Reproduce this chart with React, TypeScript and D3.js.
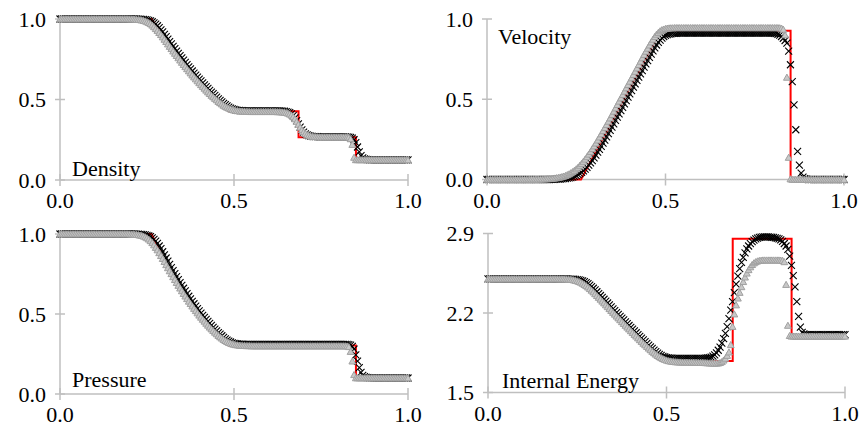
import React from "react";
import * as d3 from "d3";

// cell centres of the two runs (200 cells on [0, 1])
const xGrid: number[] = d3.range(201).map((i) => i / 200);

const xTicks = [0, 0.5, 1];
const xTickLabels = ["0.0", "0.5", "1.0"];
const unitTicks = [0, 0.5, 1];
const unitTickLabels = ["0.0", "0.5", "1.0"];
const energyTicks = [1.5, 2.2, 2.9];
const energyTickLabels = ["1.5", "2.2", "2.9"];

// exact (Riemann) solution, red line
const exactX = [0, 0.2634, 0.28, 0.3, 0.32, 0.34, 0.36, 0.38, 0.4, 0.42, 0.44, 0.46, 0.48, 0.4859, 0.6855, 0.6855, 0.8504, 0.8504, 1.0];
const densityExact = [1, 1, 0.9427, 0.8774, 0.816, 0.7582, 0.7029, 0.6514, 0.6029, 0.5574, 0.5147, 0.4745, 0.437, 0.4263, 0.4263, 0.2656, 0.2656, 0.125, 0.125];
const velocityExact = [0, 0, 0.0694, 0.1527, 0.236, 0.3194, 0.4027, 0.486, 0.5694, 0.6527, 0.736, 0.8194, 0.9027, 0.9275, 0.9275, 0.9275, 0.9275, 0, 0];
const pressureExact = [1, 1, 0.9207, 0.8327, 0.7522, 0.6785, 0.6105, 0.5488, 0.4924, 0.4412, 0.3946, 0.3522, 0.3138, 0.3031, 0.3031, 0.3031, 0.3031, 0.1, 0.1];
const energyExact = [2.5, 2.5, 2.4417, 2.3726, 2.3045, 2.2373, 2.1712, 2.1061, 2.0419, 1.9788, 1.9167, 1.8555, 1.7953, 1.7776, 1.7776, 2.8531, 2.8531, 2.0, 2.0];

// run 1 (black crosses)
const densityBlack = [
  1, 1, 1, 1, 1, 1, 1, 1, 1, 1,
  1, 1, 1, 1, 1, 1, 1, 1, 1, 1,
  1, 1, 1, 1, 1, 1, 1, 1, 1, 1,
  1, 1, 1, 1, 1, 1, 1, 1, 1, 1,
  1, 1, 1, 1, 1, 0.999, 0.999, 0.998, 0.997, 0.996,
  0.994, 0.992, 0.988, 0.983, 0.976, 0.968, 0.958, 0.946, 0.933, 0.92,
  0.905, 0.891, 0.875, 0.86, 0.845, 0.83, 0.816, 0.801, 0.787, 0.772,
  0.758, 0.744, 0.73, 0.716, 0.703, 0.69, 0.677, 0.664, 0.651, 0.639,
  0.627, 0.615, 0.603, 0.591, 0.58, 0.569, 0.557, 0.546, 0.536, 0.525,
  0.515, 0.504, 0.495, 0.485, 0.476, 0.468, 0.46, 0.453, 0.447, 0.442,
  0.438, 0.435, 0.433, 0.432, 0.431, 0.431, 0.43, 0.43, 0.43, 0.43,
  0.43, 0.43, 0.43, 0.43, 0.43, 0.43, 0.43, 0.43, 0.43, 0.43,
  0.43, 0.43, 0.43, 0.43, 0.43, 0.43, 0.429, 0.429, 0.428, 0.427,
  0.425, 0.422, 0.418, 0.411, 0.4, 0.386, 0.369, 0.349, 0.329, 0.312,
  0.298, 0.287, 0.28, 0.276, 0.273, 0.271, 0.27, 0.269, 0.269, 0.268,
  0.268, 0.268, 0.268, 0.268, 0.268, 0.268, 0.268, 0.268, 0.268, 0.268,
  0.268, 0.268, 0.268, 0.268, 0.268, 0.267, 0.266, 0.264, 0.26, 0.25,
  0.232, 0.205, 0.175, 0.152, 0.138, 0.131, 0.128, 0.126, 0.125, 0.125,
  0.125, 0.125, 0.125, 0.125, 0.125, 0.125, 0.125, 0.125, 0.125, 0.125,
  0.125, 0.125, 0.125, 0.125, 0.125, 0.125, 0.125, 0.125, 0.125, 0.125,
  0.125,
];

const velocityBlack = [
  0, 0, 0, 0, 0, 0, 0, 0, 0, 0,
  0, 0, 0, 0, 0, 0, 0, 0, 0, 0,
  0, 0, 0, 0, 0, 0, 0, 0, 0, 0,
  0, 0, 0, 0, 0, 0, 0.001, 0.001, 0.001, 0.002,
  0.002, 0.003, 0.004, 0.005, 0.006, 0.008, 0.01, 0.012, 0.015, 0.019,
  0.024, 0.03, 0.036, 0.044, 0.054, 0.064, 0.076, 0.089, 0.103, 0.118,
  0.135, 0.152, 0.17, 0.188, 0.207, 0.227, 0.246, 0.266, 0.286, 0.306,
  0.327, 0.347, 0.368, 0.388, 0.409, 0.429, 0.45, 0.471, 0.492, 0.513,
  0.533, 0.554, 0.575, 0.596, 0.617, 0.638, 0.658, 0.679, 0.7, 0.721,
  0.741, 0.761, 0.781, 0.801, 0.82, 0.838, 0.854, 0.869, 0.881, 0.891,
  0.898, 0.903, 0.906, 0.908, 0.91, 0.911, 0.911, 0.912, 0.912, 0.912,
  0.912, 0.912, 0.912, 0.912, 0.912, 0.912, 0.912, 0.912, 0.912, 0.912,
  0.912, 0.912, 0.912, 0.912, 0.912, 0.912, 0.912, 0.912, 0.912, 0.912,
  0.912, 0.912, 0.912, 0.912, 0.912, 0.912, 0.912, 0.912, 0.912, 0.912,
  0.912, 0.912, 0.912, 0.912, 0.912, 0.912, 0.912, 0.912, 0.912, 0.912,
  0.912, 0.912, 0.912, 0.912, 0.912, 0.912, 0.912, 0.912, 0.912, 0.912,
  0.912, 0.911, 0.909, 0.905, 0.899, 0.891, 0.88, 0.866, 0.85, 0.8,
  0.715, 0.61, 0.465, 0.31, 0.175, 0.09, 0.04, 0.015, 0.005, 0.002,
  0, 0, 0, 0, 0, 0, 0, 0, 0, 0,
  0, 0, 0, 0, 0, 0, 0, 0, 0, 0,
  0,
];

const pressureBlack = [
  1, 1, 1, 1, 1, 1, 1, 1, 1, 1,
  1, 1, 1, 1, 1, 1, 1, 1, 1, 1,
  1, 1, 1, 1, 1, 1, 1, 1, 1, 1,
  1, 1, 1, 1, 1, 1, 1, 1, 1, 1,
  1, 1, 1, 1, 0.999, 0.999, 0.998, 0.998, 0.996, 0.995,
  0.992, 0.988, 0.984, 0.976, 0.967, 0.955, 0.941, 0.925, 0.908, 0.889,
  0.87, 0.85, 0.83, 0.81, 0.79, 0.771, 0.752, 0.733, 0.715, 0.696,
  0.679, 0.661, 0.644, 0.627, 0.611, 0.595, 0.579, 0.564, 0.549, 0.534,
  0.52, 0.506, 0.492, 0.479, 0.466, 0.454, 0.441, 0.429, 0.417, 0.406,
  0.395, 0.384, 0.374, 0.364, 0.354, 0.345, 0.337, 0.33, 0.325, 0.32,
  0.317, 0.314, 0.313, 0.312, 0.311, 0.311, 0.31, 0.31, 0.31, 0.31,
  0.31, 0.31, 0.31, 0.31, 0.31, 0.31, 0.31, 0.31, 0.31, 0.31,
  0.31, 0.31, 0.31, 0.31, 0.31, 0.31, 0.31, 0.31, 0.31, 0.31,
  0.31, 0.31, 0.31, 0.31, 0.31, 0.31, 0.31, 0.31, 0.31, 0.31,
  0.31, 0.31, 0.31, 0.31, 0.31, 0.31, 0.31, 0.31, 0.31, 0.31,
  0.31, 0.31, 0.31, 0.31, 0.31, 0.31, 0.31, 0.31, 0.31, 0.31,
  0.31, 0.31, 0.31, 0.31, 0.31, 0.31, 0.308, 0.305, 0.298, 0.28,
  0.245, 0.205, 0.165, 0.135, 0.117, 0.108, 0.104, 0.102, 0.101, 0.101,
  0.1, 0.1, 0.1, 0.1, 0.1, 0.1, 0.1, 0.1, 0.1, 0.1,
  0.1, 0.1, 0.1, 0.1, 0.1, 0.1, 0.1, 0.1, 0.1, 0.1,
  0.1,
];

const energyBlack = [
  2.5, 2.5, 2.5, 2.5, 2.5, 2.5, 2.5, 2.5, 2.5, 2.5,
  2.5, 2.5, 2.5, 2.5, 2.5, 2.5, 2.5, 2.5, 2.5, 2.5,
  2.5, 2.5, 2.5, 2.5, 2.5, 2.5, 2.5, 2.5, 2.5, 2.5,
  2.5, 2.5, 2.5, 2.5, 2.5, 2.5, 2.5, 2.5, 2.5, 2.5,
  2.5, 2.5, 2.5, 2.5, 2.5, 2.499, 2.499, 2.498, 2.498, 2.496,
  2.494, 2.492, 2.488, 2.483, 2.476, 2.468, 2.458, 2.446, 2.432, 2.418,
  2.403, 2.387, 2.371, 2.354, 2.338, 2.321, 2.305, 2.288, 2.271, 2.254,
  2.237, 2.221, 2.204, 2.188, 2.171, 2.155, 2.139, 2.122, 2.106, 2.09,
  2.074, 2.058, 2.042, 2.026, 2.01, 1.995, 1.979, 1.963, 1.948, 1.932,
  1.917, 1.901, 1.888, 1.874, 1.86, 1.847, 1.836, 1.827, 1.819, 1.813,
  1.808, 1.805, 1.803, 1.802, 1.801, 1.801, 1.8, 1.8, 1.8, 1.8,
  1.8, 1.8, 1.8, 1.8, 1.8, 1.8, 1.8, 1.8, 1.8, 1.8,
  1.8, 1.801, 1.802, 1.804, 1.807, 1.812, 1.82, 1.832, 1.849, 1.872,
  1.9, 1.935, 1.975, 2.02, 2.08, 2.15, 2.225, 2.3, 2.38, 2.455,
  2.525, 2.59, 2.645, 2.69, 2.73, 2.765, 2.79, 2.81, 2.828, 2.842,
  2.852, 2.86, 2.865, 2.868, 2.87, 2.871, 2.871, 2.87, 2.869, 2.867,
  2.865, 2.862, 2.858, 2.852, 2.843, 2.83, 2.812, 2.79, 2.76, 2.7,
  2.62, 2.53, 2.43, 2.3, 2.17, 2.075, 2.03, 2.015, 2.01, 2.01,
  2.01, 2.01, 2.01, 2.01, 2.01, 2.01, 2.01, 2.01, 2.01, 2.01,
  2.01, 2.01, 2.01, 2.01, 2.01, 2.01, 2.01, 2.01, 2.01, 2.01,
  2.01,
];

// run 2 (grey triangles)
const densityGray = [
  1, 1, 1, 1, 1, 1, 1, 1, 1, 1,
  1, 1, 1, 1, 1, 1, 1, 1, 1, 1,
  1, 1, 1, 1, 1, 1, 1, 1, 1, 1,
  1, 1, 1, 1, 1, 1, 1, 1, 1, 1,
  0.999, 0.999, 0.999, 0.998, 0.997, 0.996, 0.995, 0.993, 0.99, 0.987,
  0.982, 0.977, 0.97, 0.961, 0.951, 0.939, 0.928, 0.915, 0.902, 0.888,
  0.873, 0.859, 0.844, 0.829, 0.815, 0.8, 0.786, 0.772, 0.758, 0.744,
  0.73, 0.716, 0.703, 0.69, 0.677, 0.664, 0.651, 0.639, 0.627, 0.615,
  0.603, 0.591, 0.58, 0.569, 0.557, 0.546, 0.536, 0.525, 0.516, 0.506,
  0.497, 0.487, 0.479, 0.471, 0.463, 0.457, 0.451, 0.446, 0.441, 0.437,
  0.434, 0.431, 0.43, 0.428, 0.427, 0.426, 0.426, 0.425, 0.425, 0.424,
  0.424, 0.424, 0.424, 0.424, 0.424, 0.424, 0.424, 0.424, 0.424, 0.424,
  0.424, 0.424, 0.424, 0.424, 0.424, 0.423, 0.423, 0.422, 0.421, 0.42,
  0.418, 0.414, 0.409, 0.402, 0.392, 0.379, 0.363, 0.345, 0.327, 0.311,
  0.298, 0.288, 0.281, 0.276, 0.272, 0.27, 0.269, 0.268, 0.267, 0.267,
  0.266, 0.266, 0.266, 0.266, 0.266, 0.266, 0.266, 0.266, 0.266, 0.266,
  0.266, 0.266, 0.266, 0.266, 0.266, 0.266, 0.265, 0.255, 0.22, 0.14,
  0.125, 0.125, 0.125, 0.125, 0.125, 0.125, 0.125, 0.125, 0.125, 0.125,
  0.125, 0.125, 0.125, 0.125, 0.125, 0.125, 0.125, 0.125, 0.125, 0.125,
  0.125, 0.125, 0.125, 0.125, 0.125, 0.125, 0.125, 0.125, 0.125, 0.125,
  0.125,
];

const velocityGray = [
  0, 0, 0, 0, 0, 0, 0, 0, 0, 0,
  0, 0, 0, 0, 0, 0, 0, 0, 0, 0,
  0, 0, 0, 0, 0.001, 0.001, 0.001, 0.001, 0.001, 0.001,
  0.002, 0.002, 0.002, 0.003, 0.004, 0.004, 0.005, 0.007, 0.008, 0.01,
  0.012, 0.014, 0.017, 0.02, 0.024, 0.029, 0.034, 0.041, 0.048, 0.056,
  0.065, 0.075, 0.087, 0.099, 0.112, 0.126, 0.141, 0.157, 0.173, 0.191,
  0.208, 0.226, 0.245, 0.264, 0.283, 0.303, 0.322, 0.342, 0.362, 0.382,
  0.403, 0.424, 0.445, 0.466, 0.487, 0.507, 0.528, 0.549, 0.57, 0.59,
  0.611, 0.632, 0.653, 0.673, 0.694, 0.715, 0.736, 0.757, 0.778, 0.798,
  0.817, 0.837, 0.856, 0.873, 0.89, 0.904, 0.915, 0.925, 0.932, 0.936,
  0.94, 0.942, 0.943, 0.944, 0.944, 0.945, 0.945, 0.945, 0.945, 0.945,
  0.945, 0.945, 0.945, 0.945, 0.945, 0.945, 0.945, 0.945, 0.945, 0.945,
  0.945, 0.945, 0.945, 0.945, 0.945, 0.945, 0.945, 0.945, 0.945, 0.945,
  0.945, 0.945, 0.945, 0.945, 0.945, 0.945, 0.945, 0.945, 0.945, 0.945,
  0.945, 0.945, 0.945, 0.945, 0.945, 0.945, 0.945, 0.945, 0.945, 0.945,
  0.945, 0.945, 0.945, 0.945, 0.945, 0.945, 0.945, 0.945, 0.945, 0.945,
  0.945, 0.945, 0.945, 0.945, 0.944, 0.942, 0.935, 0.9, 0.636, 0.137,
  0.003, 0, 0, 0, 0, 0, 0, 0, 0, 0,
  0, 0, 0, 0, 0, 0, 0, 0, 0, 0,
  0, 0, 0, 0, 0, 0, 0, 0, 0, 0,
  0,
];

const pressureGray = [
  1, 1, 1, 1, 1, 1, 1, 1, 1, 1,
  1, 1, 1, 1, 1, 1, 1, 1, 1, 1,
  1, 1, 1, 1, 1, 1, 1, 1, 1, 1,
  1, 1, 1, 1, 1, 1, 1, 1, 1, 1,
  0.999, 0.998, 0.998, 0.997, 0.996, 0.995, 0.992, 0.99, 0.986, 0.981,
  0.975, 0.967, 0.957, 0.945, 0.931, 0.915, 0.9, 0.882, 0.864, 0.846,
  0.827, 0.807, 0.788, 0.769, 0.751, 0.732, 0.714, 0.696, 0.678, 0.661,
  0.644, 0.627, 0.611, 0.595, 0.579, 0.564, 0.549, 0.534, 0.52, 0.506,
  0.492, 0.479, 0.466, 0.454, 0.441, 0.429, 0.417, 0.406, 0.396, 0.385,
  0.375, 0.365, 0.356, 0.348, 0.34, 0.333, 0.327, 0.321, 0.317, 0.313,
  0.31, 0.307, 0.306, 0.304, 0.303, 0.302, 0.302, 0.301, 0.301, 0.301,
  0.3, 0.3, 0.3, 0.3, 0.3, 0.3, 0.3, 0.3, 0.3, 0.3,
  0.3, 0.3, 0.3, 0.3, 0.3, 0.3, 0.3, 0.3, 0.3, 0.3,
  0.3, 0.3, 0.3, 0.3, 0.3, 0.3, 0.3, 0.3, 0.3, 0.3,
  0.3, 0.3, 0.3, 0.3, 0.3, 0.3, 0.3, 0.3, 0.3, 0.3,
  0.3, 0.3, 0.3, 0.3, 0.3, 0.3, 0.3, 0.3, 0.3, 0.3,
  0.3, 0.3, 0.3, 0.3, 0.3, 0.299, 0.295, 0.265, 0.205, 0.12,
  0.1, 0.1, 0.1, 0.1, 0.1, 0.1, 0.1, 0.1, 0.1, 0.1,
  0.1, 0.1, 0.1, 0.1, 0.1, 0.1, 0.1, 0.1, 0.1, 0.1,
  0.1, 0.1, 0.1, 0.1, 0.1, 0.1, 0.1, 0.1, 0.1, 0.1,
  0.1,
];

const energyGray = [
  2.5, 2.5, 2.5, 2.5, 2.5, 2.5, 2.5, 2.5, 2.5, 2.5,
  2.5, 2.5, 2.5, 2.5, 2.5, 2.5, 2.5, 2.5, 2.5, 2.5,
  2.5, 2.5, 2.5, 2.5, 2.5, 2.5, 2.5, 2.5, 2.5, 2.5,
  2.5, 2.5, 2.5, 2.5, 2.5, 2.5, 2.5, 2.5, 2.5, 2.5,
  2.499, 2.499, 2.499, 2.498, 2.497, 2.496, 2.495, 2.493, 2.49, 2.486,
  2.482, 2.476, 2.469, 2.46, 2.45, 2.439, 2.427, 2.413, 2.399, 2.384,
  2.368, 2.352, 2.336, 2.32, 2.303, 2.287, 2.27, 2.254, 2.237, 2.221,
  2.204, 2.188, 2.171, 2.155, 2.139, 2.122, 2.106, 2.09, 2.074, 2.058,
  2.042, 2.026, 2.01, 1.995, 1.979, 1.963, 1.948, 1.932, 1.918, 1.904,
  1.889, 1.875, 1.861, 1.848, 1.836, 1.824, 1.814, 1.805, 1.797, 1.79,
  1.784, 1.779, 1.776, 1.773, 1.771, 1.769, 1.768, 1.767, 1.767, 1.766,
  1.766, 1.766, 1.765, 1.765, 1.765, 1.765, 1.764, 1.764, 1.763, 1.763,
  1.763, 1.762, 1.761, 1.76, 1.759, 1.758, 1.757, 1.757, 1.757, 1.758,
  1.762, 1.77, 1.784, 1.8, 1.825, 1.855, 1.92, 2.08, 2.19, 2.27,
  2.33, 2.38, 2.43, 2.475, 2.515, 2.55, 2.58, 2.605, 2.625, 2.64,
  2.65, 2.657, 2.661, 2.663, 2.665, 2.665, 2.665, 2.665, 2.665, 2.665,
  2.665, 2.665, 2.665, 2.665, 2.664, 2.662, 2.65, 2.45, 2.09, 2.0,
  1.995, 1.995, 1.995, 1.995, 1.995, 1.995, 1.995, 1.995, 1.995, 1.995,
  1.995, 1.995, 1.995, 1.995, 1.995, 1.995, 1.995, 1.995, 1.995, 1.995,
  1.995, 1.995, 1.995, 1.995, 1.995, 1.995, 1.995, 1.995, 1.995, 1.995,
  1.995,
];

const FONT = "'Liberation Serif', 'Times New Roman', serif";
const AXIS = "#bfbfbf";

const crossPath = "M-3.5,-3.5L3.5,3.5M-3.5,3.5L3.5,-3.5";
const trianglePath = "M0,-3.3L3.4,2.8L-3.4,2.8Z";

type Box = { left: number; right: number; top: number; bottom: number; labelX: number; labelY: number };

function ShockPanel(props: {
  title: string;
  black: number[];
  gray: number[];
  exact: number[];
  yDomain: [number, number];
  yTicks: number[];
  yTickLabels: string[];
  box: Box;
}) {
  const { title, black, gray, exact, yDomain, yTicks, yTickLabels, box } = props;
  const x = d3.scaleLinear().domain([0, 1]).range([box.left, box.right]);
  const y = d3.scaleLinear().domain(yDomain).range([box.bottom, box.top]);
  const exactLine = d3
    .line<number>()
    .x((_, i) => x(exactX[i]))
    .y((d) => y(d))(exact);
  const y0 = y(yDomain[0]);
  const x0 = x(0);

  return (
    <g>
      {/* axes */}
      <line x1={x0} x2={x(1)} y1={y0} y2={y0} stroke={AXIS} strokeWidth={1.5} />
      <line x1={x0} x2={x0} y1={y(yDomain[1])} y2={y0} stroke={AXIS} strokeWidth={1.5} />
      {xTicks.map((t) => (
        <line key={"xt" + t} x1={x(t)} x2={x(t)} y1={y0 - 6} y2={y0 + 6} stroke={AXIS} strokeWidth={1.5} />
      ))}
      {yTicks.map((t) => (
        <line key={"yt" + t} x1={x0 - 5} x2={x0 + 5} y1={y(t)} y2={y(t)} stroke={AXIS} strokeWidth={1.5} />
      ))}
      {xTicks.map((t, i) => (
        <text key={"xl" + t} x={x(t)} y={y0 + 28} textAnchor="middle" fontFamily={FONT} fontSize={22} fill="#000">
          {xTickLabels[i]}
        </text>
      ))}
      {yTicks.map((t, i) => (
        <text key={"yl" + t} x={x0 - 14} y={y(t)} dy="0.35em" textAnchor="end" fontFamily={FONT} fontSize={22} fill="#000">
          {yTickLabels[i]}
        </text>
      ))}

      {/* exact solution */}
      <path d={exactLine ?? ""} fill="none" stroke="#ff0000" strokeWidth={2} />

      {/* run 1: crosses */}
      {black.map((v, i) =>
        i < xGrid.length ? (
          <path key={"b" + i} d={crossPath} transform={`translate(${x(xGrid[i])},${y(v)})`} stroke="#000" strokeWidth={1.1} fill="none" />
        ) : null
      )}
      {/* run 2: triangles */}
      {gray.map((v, i) =>
        i < xGrid.length ? (
          <path key={"g" + i} d={trianglePath} transform={`translate(${x(xGrid[i])},${y(v)})`} stroke="#a0a0a0" strokeWidth={1} fill="#c8c8c8" />
        ) : null
      )}

      <text x={box.labelX} y={box.labelY} fontFamily={FONT} fontSize={22} fill="#000">
        {title}
      </text>
    </g>
  );
}

export default function App() {
  return (
    <svg
      width={860}
      height={433}
      viewBox="0 0 860 433"
      style={{ position: "absolute", left: 0, top: 0, background: "#fff" }}
    >
      <rect width={860} height={433} fill="#fff" />
      <ShockPanel
        title="Density"
        black={densityBlack}
        gray={densityGray}
        exact={densityExact}
        yDomain={[0, 1]}
        yTicks={unitTicks}
        yTickLabels={unitTickLabels}
        box={{ left: 60, right: 408, top: 19, bottom: 180, labelX: 72, labelY: 176 }}
      />
      <ShockPanel
        title="Velocity"
        black={velocityBlack}
        gray={velocityGray}
        exact={velocityExact}
        yDomain={[0, 1]}
        yTicks={unitTicks}
        yTickLabels={unitTickLabels}
        box={{ left: 487, right: 844, top: 19, bottom: 179.5, labelX: 498, labelY: 44 }}
      />
      <ShockPanel
        title="Pressure"
        black={pressureBlack}
        gray={pressureGray}
        exact={pressureExact}
        yDomain={[0, 1]}
        yTicks={unitTicks}
        yTickLabels={unitTickLabels}
        box={{ left: 60, right: 408, top: 234, bottom: 394, labelX: 72, labelY: 387 }}
      />
      <ShockPanel
        title="Internal Energy"
        black={energyBlack}
        gray={energyGray}
        exact={energyExact}
        yDomain={[1.5, 2.9]}
        yTicks={energyTicks}
        yTickLabels={energyTickLabels}
        box={{ left: 488, right: 845, top: 233.5, bottom: 392.5, labelX: 502, labelY: 388 }}
      />
    </svg>
  );
}
